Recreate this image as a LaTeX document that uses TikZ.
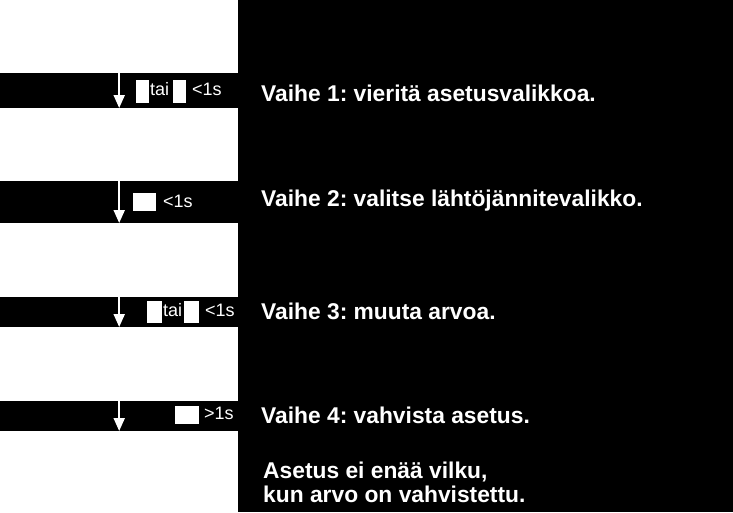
\documentclass[tikz,border=0pt]{standalone}
\usepackage{fontspec}
\setmainfont{Liberation Sans}
\usetikzlibrary{arrows.meta}
\frenchspacing
\begin{document}
\begin{tikzpicture}[x=1pt,y=-1pt,
  panel/.style={fill=white,draw=none,inner sep=0pt,anchor=north west,minimum width=238pt},
  key/.style={fill=white,draw=none,inner sep=0pt,anchor=north west},
  steptext/.style={text=white,font=\bfseries\fontsize{22.8}{27}\selectfont,inner sep=0pt,anchor=base west},
  small/.style={text=white,font=\fontsize{18}{21}\selectfont,inner sep=0pt,anchor=base west},
  flow/.style={draw=white,line width=2pt,-{Triangle[width=11pt,length=13pt]}}]
\fill[black] (0,0) rectangle (733,512);
\useasboundingbox (0,0) rectangle (733,512);
% panels
\node[panel,minimum height=73pt] (b1) at (0,0) {};
\node[panel,minimum height=73pt] (b2) at (0,108) {};
\node[panel,minimum height=74pt] (b3) at (0,223) {};
\node[panel,minimum height=74pt] (b4) at (0,327) {};
\node[panel,minimum height=81pt] (b5) at (0,431) {};
% arrows
\draw[flow] (b1.south) -- (b2.north);
\draw[flow] (b2.south) -- (b3.north);
\draw[flow] (b3.south) -- (b4.north);
\draw[flow] (b4.south) -- (b5.north);
% key boxes and labels, gap 1
\node[key,minimum width=13pt,minimum height=23pt] (k1a) at (136,80) {};
\node[small] (t1) at (150,95) {tai};
\node[key,minimum width=13pt,minimum height=23pt] (k1b) at (173,80) {};
\node[small] (s1) at (192,95) {<1s};
% gap 2
\node[key,minimum width=23pt,minimum height=18pt] (k2) at (133,193) {};
\node[small] (s2) at (163,207) {<1s};
% gap 3
\node[key,minimum width=15pt,minimum height=22pt] (k3a) at (147,301) {};
\node[small] (t3) at (163,316) {tai};
\node[key,minimum width=15pt,minimum height=22pt] (k3b) at (184,301) {};
\node[small] (s3) at (205,316) {<1s};
% gap 4
\node[key,minimum width=24pt,minimum height=18pt] (k4) at (175,406) {};
\node[small] (s4) at (204,419) {>1s};
% step texts
\node[steptext] (v1) at (261,101) {Vaihe 1: vieritä asetusvalikkoa.};
\node[steptext] (v2) at (261,206) {Vaihe 2: valitse lähtöjännitevalikko.};
\node[steptext] (v3) at (261,319) {Vaihe 3: muuta arvoa.};
\node[steptext] (v4) at (261,423) {Vaihe 4: vahvista asetus.};
\node[steptext] (v5a) at (263,478) {Asetus ei enää vilku,};
\node[steptext] (v5b) at (263,502) {kun arvo on vahvistettu.};
\end{tikzpicture}
\end{document}
